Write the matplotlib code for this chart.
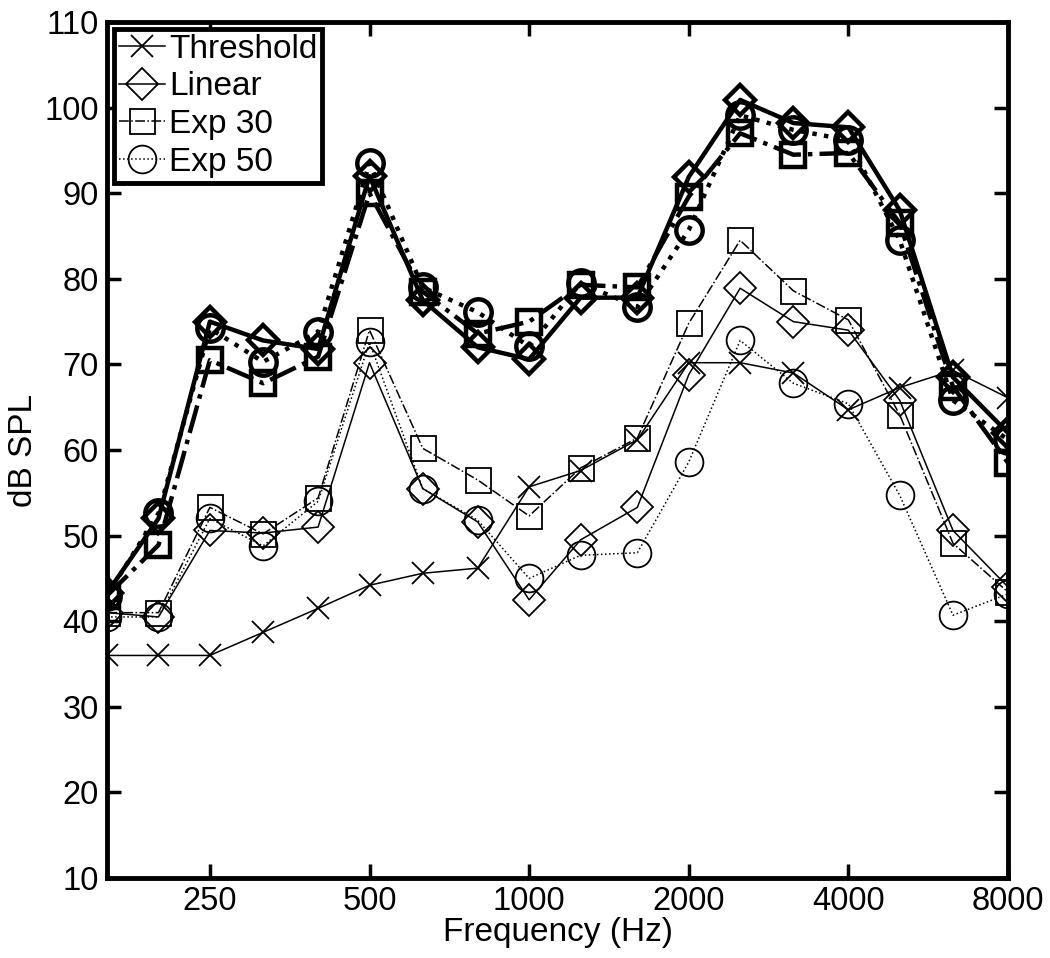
import matplotlib
matplotlib.use("Agg")
import matplotlib.pyplot as plt
from matplotlib.ticker import FixedLocator, FixedFormatter, NullLocator

plt.rcParams["font.family"] = ["Liberation Sans", "DejaVu Sans"]

# 1/3-octave centre frequencies (Hz)
freqs = [160, 200, 250, 315, 400, 500, 630, 800, 1000, 1250, 1600,
         2000, 2500, 3150, 4000, 5000, 6300, 8000]

threshold = [36, 36, 36, 38.7, 41.5, 44.2, 45.6, 46.2, 55.7, 57.6, 61.2,
             70.2, 70.2, 69.0, 64.7, 67.3, 69.3, 66.1]

# thin curves
linear = [41.0, 40.5, 50.6, 50.3, 51.0, 70.2, 55.5, 51.6, 42.5, 49.5, 53.3,
          68.8, 78.9, 75.0, 74.0, 65.8, 50.6, 44.0]
exp30 = [41.0, 41.0, 53.3, 50.2, 54.4, 74.0, 60.2, 56.5, 52.3, 57.9, 61.4,
         74.8, 84.5, 78.6, 75.2, 64.1, 49.1, 43.4]
exp50 = [40.5, 40.5, 52.0, 48.8, 54.0, 72.6, 55.5, 51.8, 45.0, 47.7, 48.0,
         58.6, 72.8, 67.8, 65.4, 54.7, 40.7, 43.2]

# thick curves
linear_thick = [43.3, 52.0, 75.0, 72.8, 71.8, 92.0, 77.5, 72.0, 70.6, 77.8,
                77.8, 91.9, 100.9, 98.2, 97.7, 88.0, 68.5, 62.0]
exp30_thick = [43.0, 48.9, 70.5, 67.8, 70.9, 90.0, 78.5, 73.6, 75.0, 79.3,
               79.0, 89.6, 97.0, 94.5, 94.7, 86.5, 67.4, 58.5]
exp50_thick = [43.0, 52.6, 74.2, 70.3, 73.8, 93.5, 79.0, 76.1, 72.1, 79.5,
               76.7, 85.7, 99.1, 97.4, 96.2, 84.5, 65.8, 61.2]

xticks = [250, 500, 1000, 2000, 4000, 8000]
yticks = list(range(10, 111, 10))

fig = plt.figure(figsize=(10.5, 9.58), dpi=100)
ax = fig.add_axes([0.102, 0.0835, 0.858, 0.8935])

thin = dict(color="black", linewidth=1.1, markerfacecolor="none",
            markeredgecolor="black", markeredgewidth=1.3)
thick = dict(color="black", linewidth=3.2, markerfacecolor="none",
             markeredgecolor="black", markeredgewidth=3.2)

# thick (bold) curves
ax.plot(freqs, linear_thick, linestyle="-", marker="D", markersize=15, **thick)
ax.plot(freqs, exp30_thick, linestyle="-.", marker="s", markersize=17, **thick)
ax.plot(freqs, exp50_thick, linestyle=":", marker="o", markersize=19, **thick)

# thin curves (legend)
ax.plot(freqs, threshold, linestyle="-", marker="x", markersize=16,
        label="Threshold", **thin)
ax.plot(freqs, linear, linestyle="-", marker="D", markersize=16,
        label="Linear", **thin)
ax.plot(freqs, exp30, linestyle="-.", marker="s", markersize=18,
        label="Exp 30", **thin)
ax.plot(freqs, exp50, linestyle=":", marker="o", markersize=20,
        label="Exp 50", **thin)

ax.set_xscale("log")
ax.set_xlim(160, 8000)
ax.set_ylim(10, 110)
ax.xaxis.set_major_locator(FixedLocator(xticks))
ax.xaxis.set_major_formatter(FixedFormatter([str(t) for t in xticks]))
ax.xaxis.set_minor_locator(NullLocator())
ax.set_yticks(yticks)

ax.tick_params(direction="in", length=10, width=2.5, labelsize=23.5,
               top=True, right=True, pad=6)
for sp in ax.spines.values():
    sp.set_linewidth(3.5)

ax.set_xlabel("Frequency (Hz)", fontsize=24, labelpad=0)
ax.set_ylabel("dB SPL", fontsize=24, labelpad=4)

leg = ax.legend(loc="upper left", fontsize=24, handlelength=1.4,
                handletextpad=0.1, borderpad=0.15, labelspacing=0.2,
                borderaxespad=0.2, fancybox=False, framealpha=1)
leg.get_frame().set_edgecolor("black")
leg.get_frame().set_linewidth(3.5)

fig.savefig("out.png", dpi=100, facecolor="white")
